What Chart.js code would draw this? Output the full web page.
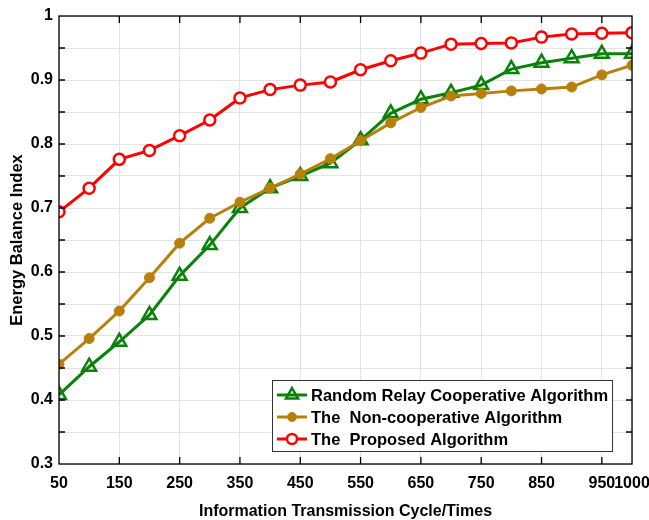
<!DOCTYPE html>
<html>
<head>
<meta charset="utf-8">
<script src="https://cdn.jsdelivr.net/npm/chart.js@4/dist/chart.umd.min.js"></script>
<style>
html,body{margin:0;padding:0;background:#fff;}
#wrap{width:649px;height:520px;}
</style>
</head>
<body>
<div id="wrap"><canvas id="c" width="649" height="520"></canvas></div>
<script>
const cycles = [50,100,150,200,250,300,350,400,450,500,550,600,650,700,750,800,850,900,950,1000];
const randomRelay = [0.408,0.452,0.491,0.533,0.594,0.642,0.700,0.731,0.750,0.770,0.806,0.848,0.870,0.880,0.892,0.917,0.927,0.934,0.941,0.941];
const nonCoop = [0.456,0.496,0.539,0.591,0.645,0.684,0.709,0.731,0.753,0.777,0.805,0.833,0.857,0.875,0.879,0.883,0.886,0.889,0.908,0.923];
const proposed = [0.694,0.731,0.776,0.790,0.813,0.8375,0.872,0.885,0.892,0.897,0.916,0.930,0.942,0.956,0.957,0.958,0.967,0.972,0.973,0.974];
const xTickValues = [50,150,250,350,450,550,650,750,850,950,1000];
const seriesNames = ['Random Relay Cooperative Algorithm','The  Non-cooperative Algorithm','The  Proposed Algorithm'];
const xTitle = 'Information Transmission Cycle/Times';
const yTitle = 'Energy Balance Index';

const FONT = '"Liberation Sans", Arial, sans-serif';
const GREEN = '#0a820a', GOLD = '#b8800a', RED = '#ff0000';

function pts(arr){ return cycles.map((x,i)=>({x:x,y:arr[i]})); }

const framePlugin = {
  id:'frame',
  afterDatasetsDraw(chart){
    const ctx = chart.ctx, a = chart.chartArea;
    const xs = chart.scales.x, ys = chart.scales.y;
    ctx.save();
    ctx.strokeStyle = '#000'; ctx.lineWidth = 1.3;
    ctx.strokeRect(a.left, a.top, a.right-a.left, a.bottom-a.top);
    ctx.beginPath();
    xs.ticks.forEach(t=>{
      const px = xs.getPixelForValue(t.value);
      if (px <= a.left+1 || px >= a.right-1) return;
      ctx.moveTo(px,a.bottom); ctx.lineTo(px,a.bottom-7);
      ctx.moveTo(px,a.top); ctx.lineTo(px,a.top+7);
    });
    ys.ticks.forEach(t=>{
      const py = ys.getPixelForValue(t.value);
      if (py <= a.top+1 || py >= a.bottom-1) return;
      ctx.moveTo(a.left,py); ctx.lineTo(a.left+6,py);
      ctx.moveTo(a.right,py); ctx.lineTo(a.right-6,py);
    });
    ctx.stroke();
    ctx.restore();
  },
  afterDraw(chart){
    const ctx = chart.ctx, a = chart.chartArea;
    ctx.save();
    ctx.font = 'bold 16.5px ' + FONT;
    const order = [0,1,2];
    let tw = 0;
    order.forEach(i=>{ tw = Math.max(tw, ctx.measureText(seriesNames[i]).width); });
    const rowH = 22;
    const left = a.left + 213, top = a.bottom - 84;
    const w = 5 + 30 + 4 + tw + 4;
    const h = 71;
    ctx.fillStyle = '#fff';
    ctx.fillRect(left, top, w, h);
    ctx.strokeStyle = '#333'; ctx.lineWidth = 1;
    ctx.strokeRect(left+0.5, top+0.5, w, h);
    order.forEach((i,k)=>{
      const ds = chart.data.datasets[i];
      const cy = top + 15 + rowH*k;
      const x0 = left + 5, x1 = x0 + 30, cx = (x0+x1)/2;
      ctx.strokeStyle = ds.borderColor; ctx.lineWidth = 3;
      ctx.beginPath(); ctx.moveTo(x0,cy); ctx.lineTo(x1,cy); ctx.stroke();
      ctx.lineWidth = ds.pointBorderWidth;
      ctx.fillStyle = ds.pointBackgroundColor;
      ctx.strokeStyle = ds.pointBorderColor;
      ctx.beginPath();
      if (ds.pointStyle === 'triangle') {
        const r = 7;
        ctx.moveTo(cx, cy - r); ctx.lineTo(cx + r*0.866, cy + r*0.5); ctx.lineTo(cx - r*0.866, cy + r*0.5); ctx.closePath();
      } else {
        ctx.arc(cx, cy, ds.pointRadius - 0.5, 0, Math.PI*2);
      }
      ctx.fill(); ctx.stroke();
      ctx.fillStyle = '#000';
      ctx.textBaseline = 'middle';
      ctx.fillText(seriesNames[i], x1 + 4, cy + 1);
    });
    ctx.restore();
  }
};

new Chart(document.getElementById('c'), {
  type:'line',
  data:{
    datasets:[
      {label:seriesNames[0], data:pts(randomRelay), borderColor:GREEN, borderWidth:3, pointStyle:'triangle', pointRadius:8, pointBorderWidth:2.5, pointBorderColor:GREEN, pointBackgroundColor:'rgba(255,255,255,0)', order:3},
      {label:seriesNames[1], data:pts(nonCoop), borderColor:GOLD, borderWidth:3, pointStyle:'circle', pointRadius:5, pointBorderWidth:1, pointBorderColor:GOLD, pointBackgroundColor:GOLD, order:2},
      {label:seriesNames[2], data:pts(proposed), borderColor:RED, borderWidth:3, pointStyle:'circle', pointRadius:5.5, pointBorderWidth:2.5, pointBorderColor:RED, pointBackgroundColor:'#fff', order:1}
    ]
  },
  options:{
    responsive:false, animation:false,
    layout:{padding:{left:0, top:16, right:17, bottom:0}},
    plugins:{legend:{display:false}, tooltip:{enabled:false}},
    scales:{
      x:{
        type:'linear', min:50, max:1000,
        afterBuildTicks(s){ s.ticks = xTickValues.map(v=>({value:v})); },
        afterFit(s){ s.height = 56; s.paddingLeft = 0; s.paddingRight = 0; },
        border:{display:false},
        grid:{color:'#e3e3e3', lineWidth:1, drawTicks:false},
        ticks:{autoSkip:false, maxRotation:0, padding:10, color:'#000', font:{family:FONT, size:16, weight:'bold'}, callback:(v)=>String(v)},
        title:{display:true, text:xTitle, color:'#000', font:{family:FONT, size:16, weight:'bold'}, padding:{top:0,bottom:-1}}
      },
      y:{
        min:0.3, max:1,
        afterFit(s){ s.width = 59; s.paddingTop = 0; s.paddingBottom = 0; },
        border:{display:false},
        grid:{color:'#e3e3e3', lineWidth:1, drawTicks:false},
        ticks:{stepSize:0.05, autoSkip:false, padding:6, color:'#000', font:{family:FONT, size:16, weight:'bold'},
          callback:(v)=>{ const t=v*10; return Math.abs(t-Math.round(t))<1e-6 ? String(Number(v.toFixed(1))) : ''; }},
        title:{display:true, text:yTitle, color:'#000', font:{family:FONT, size:16.5, weight:'bold'}, padding:{top:8,bottom:0}}
      }
    }
  },
  plugins:[framePlugin]
});
</script>
</body>
</html>
